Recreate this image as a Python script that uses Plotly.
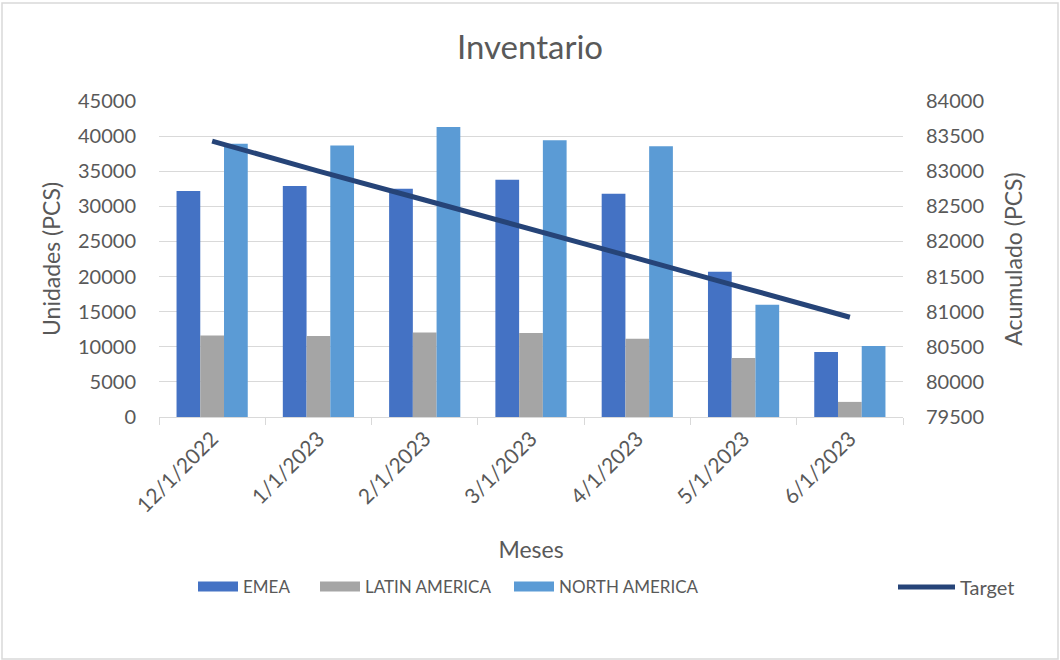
import plotly.graph_objects as go

months = ["12/1/2022", "1/1/2023", "2/1/2023", "3/1/2023", "4/1/2023", "5/1/2023", "6/1/2023"]
emea = [32200, 32900, 32500, 33800, 31800, 20700, 9250]
latin_america = [11600, 11550, 12050, 11950, 11150, 8400, 2150]
north_america = [38900, 38650, 41300, 39400, 38550, 16000, 10100]
target = [83430, 83000, 82590, 82180, 81760, 81340, 80920]

C_EMEA = "#4472C4"
C_LAT = "#A5A5A5"
C_NA = "#5B9BD5"
C_TGT = "#264478"
TXT = "#595959"
GRID = "#D9D9D9"
FONT = "Lato"

W, H = 1060, 660
L, R, T, B = 159, 157, 101, 243
pw, ph = W - L - R, H - T - B

def px_x(x):
    return (x - L) / pw

def px_y(y):
    return (H - B - y) / ph

fig = go.Figure()
for name, vals, col in [("EMEA", emea, C_EMEA), ("LATIN AMERICA", latin_america, C_LAT),
                        ("NORTH AMERICA", north_america, C_NA)]:
    fig.add_trace(go.Bar(x=months, y=vals, name=name, marker=dict(color=col, line=dict(width=0)),
                         showlegend=False, yaxis="y"))

fig.add_trace(go.Scatter(x=months, y=target, name="Target", mode="lines",
                         line=dict(color=C_TGT, width=5), yaxis="y2", showlegend=False))

# legend entries (one legend per entry to mimic spacing)
legend_items = [("EMEA", C_EMEA, 13, "legend", 198, 40, 17),
                ("LATIN AMERICA", C_LAT, 13, "legend2", 320, 40, 17),
                ("NORTH AMERICA", C_NA, 13, "legend3", 514, 40, 17),
                ("Target", C_TGT, 5, "legend4", 898, 57, 20)]
for name, col, lw, lg, _, _, _ in legend_items:
    fig.add_trace(go.Scatter(x=[None], y=[None], mode="lines", name=name,
                             line=dict(color=col, width=lw), legend=lg, showlegend=True))

legend_layout = {}
for name, col, lw, lg, xpx, iw, fs in legend_items:
    legend_layout[lg] = dict(x=px_x(xpx - 5), y=px_y(587), xanchor="left", yanchor="middle",
                             orientation="h", itemwidth=iw, bgcolor="rgba(0,0,0,0)",
                             font=dict(family=FONT, size=fs, color=TXT), itemclick=False)

fig.update_layout(
    width=W, height=H,
    margin=dict(l=L, r=R, t=T, b=B, autoexpand=False),
    paper_bgcolor="white", plot_bgcolor="white",
    font=dict(family=FONT, color=TXT, size=20),
    title=dict(text="Inventario", x=0.5, xanchor="center", y=1 - 47 / H, yanchor="middle",
               font=dict(family=FONT, size=33, color=TXT)),
    barmode="group", bargap=0.33, bargroupgap=0,
    xaxis=dict(type="category", tickangle=-45, tickson="boundaries", ticks="outside",
               ticklen=7, tickcolor=GRID, tickwidth=1.3, showline=True, linecolor=GRID,
               linewidth=1.3, showgrid=False, tickfont=dict(size=21, color=TXT),
               title=dict(text="Meses", font=dict(size=23, color=TXT), standoff=26),
               automargin=False),
    yaxis=dict(range=[0, 45000], dtick=5000, tickformat="d", showgrid=True, gridcolor=GRID,
               gridwidth=1.3, zeroline=False, showline=False, tickfont=dict(size=20, color=TXT),
               ticklabelstandoff=22, automargin=False,
               title=dict(text="Unidades (PCS)", font=dict(size=23, color=TXT), standoff=10)),
    yaxis2=dict(range=[79500, 84000], dtick=500, tickformat="d", overlaying="y", side="right",
                showgrid=False, zeroline=False, showline=False,
                tickfont=dict(size=20, color=TXT), ticklabelstandoff=22, automargin=False,
                title=dict(text="Acumulado (PCS)", font=dict(size=23, color=TXT), standoff=22)),
    shapes=[dict(type="rect", xref="paper", yref="paper",
                 x0=px_x(2), x1=px_x(1058), y0=px_y(659), y1=px_y(3),
                 line=dict(color=GRID, width=1.5), fillcolor="rgba(0,0,0,0)", layer="below")],
    **legend_layout,
)

fig.write_html("out.html")
